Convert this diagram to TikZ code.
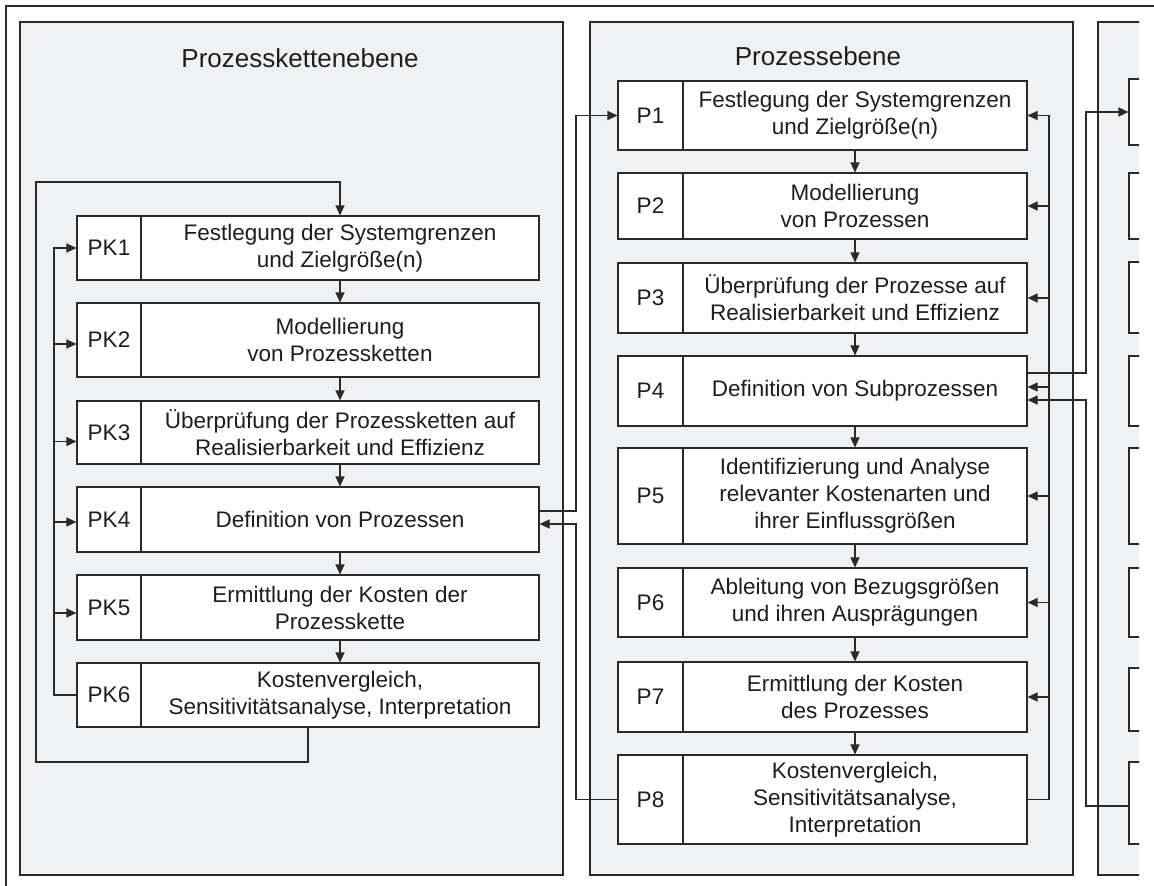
\documentclass[tikz,border=0pt]{standalone}
\usepackage{fontspec}
\setmainfont{Liberation Sans}
\usetikzlibrary{arrows.meta,calc}
\definecolor{panelfill}{HTML}{F0F1F3}
\definecolor{linec}{HTML}{2A2A2A}
\definecolor{txtc}{HTML}{1E1E1E}
\tikzset{
  panel/.style={draw=linec, line width=1.2pt, fill=panelfill},
  frame/.style={draw=linec, line width=1.2pt},
  boxst/.style={draw=linec, line width=1.1pt, fill=white, rectangle, inner sep=0pt},
  lbl/.style={text=txtc, font=\fontsize{22.5}{27}\selectfont, inner sep=0pt},
  txt/.style={text=txtc, font=\fontsize{22.5}{27}\selectfont, align=center, inner sep=0pt},
  ttl/.style={text=txtc, font=\fontsize{26}{30}\selectfont, inner sep=0pt, anchor=base},
  conn/.style={draw=linec, line width=1.1pt},
  arr/.style={conn, -{Triangle[length=10pt,width=9pt]}},
}
% name, x1, x2, xdiv, y1, y2, label, text
\newcommand{\mkbox}[8]{%
  \pgfmathsetmacro{\mkW}{#3-#2}\pgfmathsetmacro{\mkH}{#6-#5}%
  \pgfmathsetmacro{\mkCX}{(#2+#3)/2}\pgfmathsetmacro{\mkCY}{(#5+#6)/2}%
  \pgfmathsetmacro{\mkLX}{(#2+#4)/2}\pgfmathsetmacro{\mkTX}{(#4+#3)/2}%
  \node[boxst, minimum width=\mkW pt, minimum height=\mkH pt] (#1) at (\mkCX,\mkCY) {};
  \draw[conn] (#4,#5) -- (#4,#6);
  \node[lbl] (l#1) at (\mkLX,\mkCY) {#7};
  \node[txt] (t#1) at (\mkTX,\mkCY) {#8};
}
\begin{document}
\begin{tikzpicture}[x=1pt,y=-1pt]
\useasboundingbox (0,0) rectangle (1154,886);
\clip (0,0) rectangle (1154,886);
% outer frame
\draw[frame] (6,900) -- (6,6) -- (1160,6);
% panels
\path[panel] (20,22) rectangle (563,875);
\path[panel] (590,22) rectangle (1073,875);
\begin{scope}
  \clip (0,0) rectangle (1139,886);
  \path[panel] (1098,22) rectangle (1200,875);
  \foreach \n/\a/\b in {R1/79/145, R2/173/239, R3/262/333, R4/356/426, R5/448/544, R6/568/637, R7/668/731, R8/762/844} {
    \pgfmathsetmacro{\rH}{\b-\a}
    \pgfmathsetmacro{\rY}{(\a+\b)/2}
    \node[boxst, minimum width=60pt, minimum height=\rH pt] (\n) at (1159,\rY) {};
  }
\end{scope}
% titles
\node[ttl] (title1) at (300,67) {Prozesskettenebene};
\node[ttl] (title2) at (818,65) {Prozessebene};
% left boxes
\mkbox{PK1}{77}{539}{141}{216}{280}{PK1}{Festlegung der Systemgrenzen\\und Zielgröße(n)}
\mkbox{PK2}{77}{539}{141}{303}{377}{PK2}{Modellierung\\von Prozessketten}
\mkbox{PK3}{77}{539}{141}{401}{464}{PK3}{Überprüfung der Prozessketten auf\\Realisierbarkeit und Effizienz}
\mkbox{PK4}{77}{539}{141}{487}{552}{PK4}{Definition von Prozessen}
\mkbox{PK5}{77}{539}{141}{575}{640}{PK5}{Ermittlung der Kosten der\\Prozesskette}
\mkbox{PK6}{77}{539}{141}{663}{727}{PK6}{Kostenvergleich,\\Sensitivitätsanalyse, Interpretation}
% middle boxes
\mkbox{P1}{618}{1027}{683}{81}{150}{P1}{Festlegung der Systemgrenzen\\und Zielgröße(n)}
\mkbox{P2}{618}{1027}{683}{173}{239}{P2}{Modellierung\\von Prozessen}
\mkbox{P3}{618}{1027}{683}{263}{333}{P3}{Überprüfung der Prozesse auf\\Realisierbarkeit und Effizienz}
\mkbox{P4}{618}{1027}{683}{356}{426}{P4}{Definition von Subprozessen}
\mkbox{P5}{618}{1027}{683}{448}{544}{P5}{Identifizierung und Analyse\\relevanter Kostenarten und\\ihrer Einflussgrößen}
\mkbox{P6}{618}{1027}{683}{568}{637}{P6}{Ableitung von Bezugsgrößen\\und ihren Ausprägungen}
\mkbox{P7}{618}{1027}{683}{662}{732}{P7}{Ermittlung der Kosten\\des Prozesses}
\mkbox{P8}{618}{1027}{683}{755}{844}{P8}{Kostenvergleich,\\Sensitivitätsanalyse,\\Interpretation}
% sequence arrows
\foreach \a/\b in {PK1/PK2,PK2/PK3,PK3/PK4,PK4/PK5,PK5/PK6,P1/P2,P2/P3,P3/P4,P4/P5,P5/P6,P6/P7,P7/P8}
  \draw[arr] (t\a |- \a.south) -- (t\a |- \b.north);
% helper coordinates
\coordinate (loopL) at (36,762);
\coordinate (loopT) at (36,182);
\coordinate (fbL) at (54,0);
\coordinate (fbR) at (1049,0);
\coordinate (xA) at (576,0);
\coordinate (xB) at (1086,0);
% outer loop of left panel
\draw[arr] (PK6.south) |- (loopL) -- (loopT) -| (tPK1 |- PK1.north);
% left feedback
\draw[arr] (PK6.west) -| (fbL |- PK1.west) -- (PK1.west);
\coordinate (inPK2) at ([yshift=-4pt]PK2.west);
\coordinate (inPK3) at ([yshift=-9pt]PK3.west);
\coordinate (inPK4) at ([yshift=-2.5pt]PK4.west);
\coordinate (inPK5) at ([yshift=-5.5pt]PK5.west);
\foreach \c in {inPK2,inPK3,inPK4,inPK5}
  \draw[arr] (fbL |- \c) -- (\c);
% middle feedback
\draw[arr] (P8.east) -| (fbR |- P1.east) -- (P1.east);
\coordinate (fbP4) at ([yshift=4pt]P4.east);
\foreach \c in {P2.east,P3.east,fbP4,P5.east,P6.east,P7.east}
  \draw[arr] (fbR |- \c) -- (\c);
% between left and middle panel
\coordinate (PK4out) at ([yshift=8.5pt]PK4.east);
\coordinate (PK4in) at ([yshift=-4.5pt]PK4.east);
\draw[arr] (PK4out) -| (xA |- P1.west) -- (P1.west);
\draw[arr] (P8.west) -| (xA |- PK4in) -- (PK4in);
% between middle and right panel
\coordinate (P4out) at ([yshift=18pt]P4.east);
\coordinate (P4in) at ([yshift=-9pt]P4.east);
\coordinate (R8out) at ([yshift=-3pt]R8.west);
\draw[arr] (P4out) -| (xB |- R1.west) -- (R1.west);
\draw[arr] (R8out) -| (xB |- P4in) -- (P4in);
\end{tikzpicture}
\end{document}
